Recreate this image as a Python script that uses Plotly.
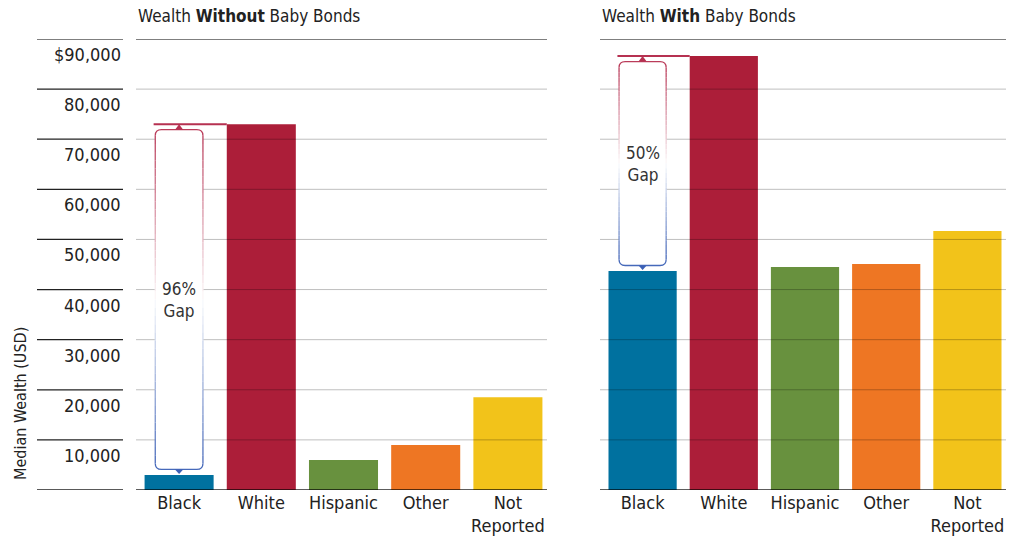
import plotly.graph_objects as go

categories = ["Black", "White", "Hispanic", "Other", "Not<br>Reported"]
without_bonds = [3000, 73000, 6000, 9000, 18500]
with_bonds = [43700, 86600, 44500, 45100, 51700]
bar_colors = ["#00719F", "#AC1E39", "#68913E", "#EE7623", "#F2C31A"]
gap_labels = ["96%<br>Gap", "50%<br>Gap"]
ytick_vals = [90000, 80000, 70000, 60000, 50000, 40000, 30000, 20000, 10000]
ytick_text = ["$90,000", "80,000", "70,000", "60,000", "50,000", "40,000", "30,000", "20,000", "10,000"]
panel_titles = ["Wealth <b>Without</b> Baby Bonds", "Wealth <b>With</b> Baby Bonds"]

W, H = 1019, 546
FONT = "DejaVu Sans Condensed, Roboto, sans-serif"
TXT = "#222222"

# pixel layout
y0_px, ytop_px = 490, 39
dom_y = [1 - y0_px / H, 1 - ytop_px / H]
dom_x1 = [138 / W, 549 / W]
dom_x2 = [602 / W, 1008 / W]
grid_x1 = [136 / W, 547 / W]
grid_x2 = [600 / W, 1006 / W]
YMAX = 90000
u_per_px = YMAX / (y0_px - ytop_px)

fig = go.Figure()
xs = list(range(len(categories)))
fig.add_trace(go.Bar(x=xs, y=without_bonds, marker=dict(color=bar_colors, line=dict(width=0)),
                     xaxis="x", yaxis="y", showlegend=False, hoverinfo="skip"))
fig.add_trace(go.Bar(x=xs, y=with_bonds, marker=dict(color=bar_colors, line=dict(width=0)),
                     xaxis="x2", yaxis="y2", showlegend=False, hoverinfo="skip"))

xax = dict(range=[-0.5, 4.5], tickmode="array", tickvals=xs, ticktext=categories,
           showgrid=False, zeroline=False, showline=False, ticks="",
           tickfont=dict(family=FONT, size=18, color=TXT), fixedrange=True)
yax = dict(range=[0, YMAX], domain=dom_y, showgrid=False, zeroline=False,
           showline=False, showticklabels=False, ticks="", fixedrange=True)

fig.update_layout(
    width=W, height=H, margin=dict(l=0, r=0, t=0, b=0),
    paper_bgcolor="white", plot_bgcolor="rgba(0,0,0,0)", bargap=0.16,
    xaxis=dict(xax, domain=dom_x1, anchor="y"),
    yaxis=dict(yax, anchor="x"),
    xaxis2=dict(xax, domain=dom_x2, anchor="y2"),
    yaxis2=dict(yax, anchor="x2"),
    font=dict(family=FONT, color=TXT),
)

shapes = []
annotations = []

# gridlines (above bars, semi-transparent)
for xr, yr, dom in [("x", "y", grid_x1), ("x2", "y2", grid_x2)]:
    for v in ytick_vals + [0]:
        if v == YMAX:
            col, w = "rgba(0,0,0,0.5)", 2
        elif v == 0:
            col, w = "rgba(0,0,0,0.85)", 1.5
        else:
            col, w = "rgba(0,0,0,0.25)", 1
        shapes.append(dict(type="line", xref="paper", yref=yr, x0=dom[0], x1=dom[1],
                           y0=v, y1=v, line=dict(color=col, width=w), layer="above"))

# left tick lines + labels
for v in ytick_vals + [0]:
    col = "rgba(0,0,0,0.5)" if v == YMAX else "#222222"
    w = 2 if v == YMAX else 1.3
    shapes.append(dict(type="line", xref="paper", yref="y", x0=37 / W, x1=123 / W,
                       y0=v, y1=v, line=dict(color=col, width=w), layer="above"))
for v, t in zip(ytick_vals, ytick_text):
    annotations.append(dict(xref="paper", yref="y", x=123 / W, y=v, text=t, showarrow=False,
                            xanchor="right", yanchor="top", yshift=-3,
                            font=dict(family=FONT, size=18, color=TXT)))

# y axis title
annotations.append(dict(xref="paper", yref="paper", x=20 / W, y=1 - 404 / H,
                        text="Median Wealth (USD)", textangle=-90, showarrow=False,
                        xanchor="center", yanchor="middle",
                        font=dict(family=FONT, size=16, color=TXT)))

# panel titles
for dom, t in [(grid_x1, panel_titles[0]), (grid_x2, panel_titles[1])]:
    annotations.append(dict(xref="paper", yref="paper", x=dom[0], y=1 - 4 / H, text=t,
                            showarrow=False, xanchor="left", yanchor="top",
                            font=dict(family=FONT, size=17, color=TXT)))

# gap annotation boxes
RED = (178, 38, 72)
BLUE = (50, 88, 178)


def mix(c, t):
    # t=0 -> c, t=1 -> white
    return "rgb(%d,%d,%d)" % tuple(int(round(ci + (255 - ci) * t)) for ci in c)


bar_half = (1 - 0.16) / 2
for data, xr, yr, lab in [(without_bonds, "x", "y", gap_labels[0]), (with_bonds, "x2", "y2", gap_labels[1])]:
    hi, lo = data[1], data[0]
    ytop = hi - 5.5 * u_per_px
    ybot = lo + 5.5 * u_per_px
    xl, xrr = -0.29, 0.29
    rx, ry = 0.075, 6 * u_per_px
    # horizontal line at top value
    shapes.append(dict(type="line", xref=xr, yref=yr, x0=-0.31, x1=1 - bar_half, y0=hi, y1=hi,
                       line=dict(color=mix(RED, 0.05), width=2), layer="above"))
    # white box fill
    path = (f"M {xl},{ytop - ry} Q {xl},{ytop} {xl + rx},{ytop} L {xrr - rx},{ytop} "
            f"Q {xrr},{ytop} {xrr},{ytop - ry} L {xrr},{ybot + ry} Q {xrr},{ybot} {xrr - rx},{ybot} "
            f"L {xl + rx},{ybot} Q {xl},{ybot} {xl},{ybot + ry} Z")
    shapes.append(dict(type="path", xref=xr, yref=yr, path=path, fillcolor="white",
                       line=dict(width=0), layer="above"))
    # top edge (red)
    shapes.append(dict(type="path", xref=xr, yref=yr, layer="above",
                       path=f"M {xl},{ytop - ry} Q {xl},{ytop} {xl + rx},{ytop} L {xrr - rx},{ytop} Q {xrr},{ytop} {xrr},{ytop - ry}",
                       line=dict(color=mix(RED, 0.1), width=1.3)))
    # bottom edge (blue)
    shapes.append(dict(type="path", xref=xr, yref=yr, layer="above",
                       path=f"M {xl},{ybot + ry} Q {xl},{ybot} {xl + rx},{ybot} L {xrr - rx},{ybot} Q {xrr},{ybot} {xrr},{ybot + ry}",
                       line=dict(color=mix(BLUE, 0.1), width=1.3)))
    # gradient sides
    N = 40
    s_top, s_bot = ytop - ry, ybot + ry
    for i in range(N):
        ya = s_top + (s_bot - s_top) * i / N
        yb = s_top + (s_bot - s_top) * (i + 1) / N
        t = (i + 0.5) / N
        if t < 0.5:
            col = mix(RED, 0.1 + 0.88 * (t / 0.5))
        else:
            col = mix(BLUE, 0.1 + 0.88 * ((1 - t) / 0.5))
        for xx in (xl, xrr):
            shapes.append(dict(type="line", xref=xr, yref=yr, x0=xx, x1=xx, y0=ya, y1=yb,
                               line=dict(color=col, width=1.3), layer="above"))
    # triangles
    tw = 0.05
    shapes.append(dict(type="path", xref=xr, yref=yr, layer="above",
                       path=f"M {-tw},{ytop} L {tw},{ytop} L 0,{hi} Z",
                       fillcolor=mix(RED, 0.05), line=dict(width=0)))
    shapes.append(dict(type="path", xref=xr, yref=yr, layer="above",
                       path=f"M {-tw},{ybot} L {tw},{ybot} L 0,{lo + 1 * u_per_px} Z",
                       fillcolor=mix(BLUE, 0.05), line=dict(width=0)))
    annotations.append(dict(xref=xr, yref=yr, x=0, y=(ytop + ybot) / 2, text=lab, showarrow=False,
                            xanchor="center", yanchor="middle",
                            font=dict(family=FONT, size=17, color="#333333")))

fig.update_layout(shapes=shapes, annotations=annotations)
fig.write_html("out.html")
